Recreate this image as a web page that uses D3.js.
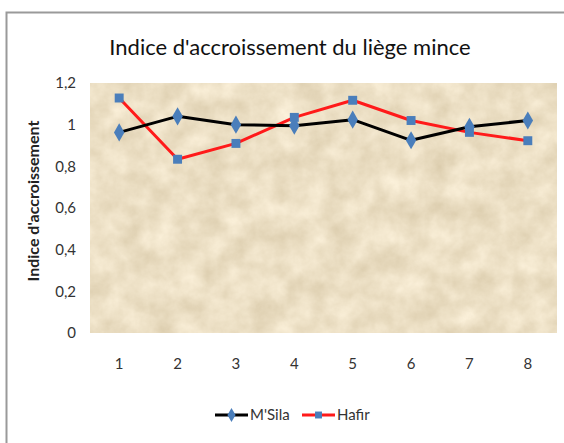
<!DOCTYPE html>
<html>
<head>
<meta charset="utf-8">
<script src="https://cdn.jsdelivr.net/npm/d3@7"></script>
<style>
  html, body { margin: 0; padding: 0; background: #ffffff; }
  svg { display: block; }
</style>
</head>
<body>
<svg id="chart" width="564" height="443"></svg>
<script>
// Growth index of thin cork per year, two sites
const categories = [1, 2, 3, 4, 5, 6, 7, 8];
const msilaValues = [0.963, 1.04, 1.0, 0.995, 1.024, 0.925, 0.99, 1.02];
const hafirValues = [1.128, 0.834, 0.91, 1.035, 1.117, 1.02, 0.963, 0.923];
const yTicks = [0, 0.2, 0.4, 0.6, 0.8, 1, 1.2];
const seriesNames = ["M'Sila", "Hafir"];

const svg = d3.select("#chart");
const font = "Lato, 'Open Sans', sans-serif";

// parchment texture for the plot area
const defs = svg.append("defs");
const filt = defs.append("filter").attr("id", "parchment")
  .attr("x", 0).attr("y", 0).attr("width", 1).attr("height", 1)
  .attr("color-interpolation-filters", "sRGB");
filt.append("feTurbulence").attr("type", "fractalNoise")
  .attr("baseFrequency", "0.04").attr("numOctaves", 5).attr("seed", 11).attr("result", "noise");
filt.append("feColorMatrix").attr("in", "noise").attr("type", "matrix")
  .attr("values", "0.15 0 0 0 0.85  0.17 0 0 0 0.79  0.21 0 0 0 0.665  0 0 0 0 1");

// outer chart frame
svg.append("path")
  .attr("d", "M6.5,443 V12.5 H564")
  .attr("fill", "none").attr("stroke", "#9a9a9a").attr("stroke-width", 2);

const plot = { left: 90, right: 557, top: 83, bottom: 333 };

const x = d3.scaleBand().domain(categories).range([plot.left, plot.right]);
const y = d3.scaleLinear().domain([0, 1.2]).range([plot.bottom, plot.top]);

svg.append("rect")
  .attr("x", plot.left).attr("y", plot.top)
  .attr("width", plot.right - plot.left).attr("height", plot.bottom - plot.top)
  .attr("fill", "#ebdfc6")
  .attr("filter", "url(#parchment)");

// title
svg.append("text")
  .attr("x", 290).attr("y", 55)
  .attr("text-anchor", "middle")
  .attr("font-family", font).attr("font-size", 22)
  .attr("fill", "#111")
  .text("Indice d'accroissement du liège mince");

// y axis
const yAxis = d3.axisLeft(y).tickValues(yTicks).tickSize(0).tickPadding(14)
  .tickFormat(d => String(d).replace(".", ","));
const gy = svg.append("g").attr("transform", `translate(${plot.left},0)`).call(yAxis);
gy.select(".domain").remove();
gy.selectAll("text").attr("font-family", font).attr("font-size", 15).attr("fill", "#333");

// x axis
const xAxis = d3.axisBottom(x).tickSize(0).tickPadding(25);
const gx = svg.append("g").attr("transform", `translate(0,${plot.bottom})`).call(xAxis);
gx.select(".domain").remove();
gx.selectAll("text").attr("font-family", font).attr("font-size", 15).attr("fill", "#333");

// y axis title
svg.append("text")
  .attr("transform", `translate(39,${(plot.top + plot.bottom) / 2 - 7}) rotate(-90)`)
  .attr("text-anchor", "middle")
  .attr("font-family", font).attr("font-size", 16).attr("font-weight", "bold")
  .attr("fill", "#222")
  .text("Indice d'accroissement");

const cx = d => x(d) + x.bandwidth() / 2;
const line = d3.line().x((d, i) => cx(categories[i])).y(d => y(d));

const series = [
  { name: seriesNames[0], values: msilaValues, color: "#000000", marker: d3.symbolDiamond, size: 95 },
  { name: seriesNames[1], values: hafirValues, color: "#ff1a1a", marker: d3.symbolSquare, size: 80 }
];

const marker = "#4a7ebb";

series.slice().reverse().forEach(s => {
  svg.append("path").datum(s.values)
    .attr("d", line).attr("fill", "none")
    .attr("stroke", s.color).attr("stroke-width", 3).attr("stroke-linejoin", "round");
});
series.slice().reverse().forEach(s => {
  svg.append("g").selectAll("path").data(s.values).join("path")
    .attr("transform", (d, i) => `translate(${cx(categories[i])},${y(d)})`)
    .attr("d", d3.symbol().type(s.marker).size(s.size))
    .attr("fill", marker);
});

// legend
const legendItems = [
  { s: series[0], x0: 215, tx: 250 },
  { s: series[1], x0: 302, tx: 337 }
];
const ly = 415;
legendItems.forEach(({ s, x0, tx }) => {
  svg.append("line").attr("x1", x0).attr("x2", x0 + 33).attr("y1", ly).attr("y2", ly)
    .attr("stroke", s.color).attr("stroke-width", 3);
  svg.append("path").attr("transform", `translate(${x0 + 16.5},${ly})`)
    .attr("d", d3.symbol().type(s.marker).size(s.size * 0.6)).attr("fill", marker);
  svg.append("text").attr("x", tx).attr("y", ly + 5)
    .attr("font-family", font).attr("font-size", 15).attr("fill", "#333")
    .text(s.name);
});
</script>
</body>
</html>
